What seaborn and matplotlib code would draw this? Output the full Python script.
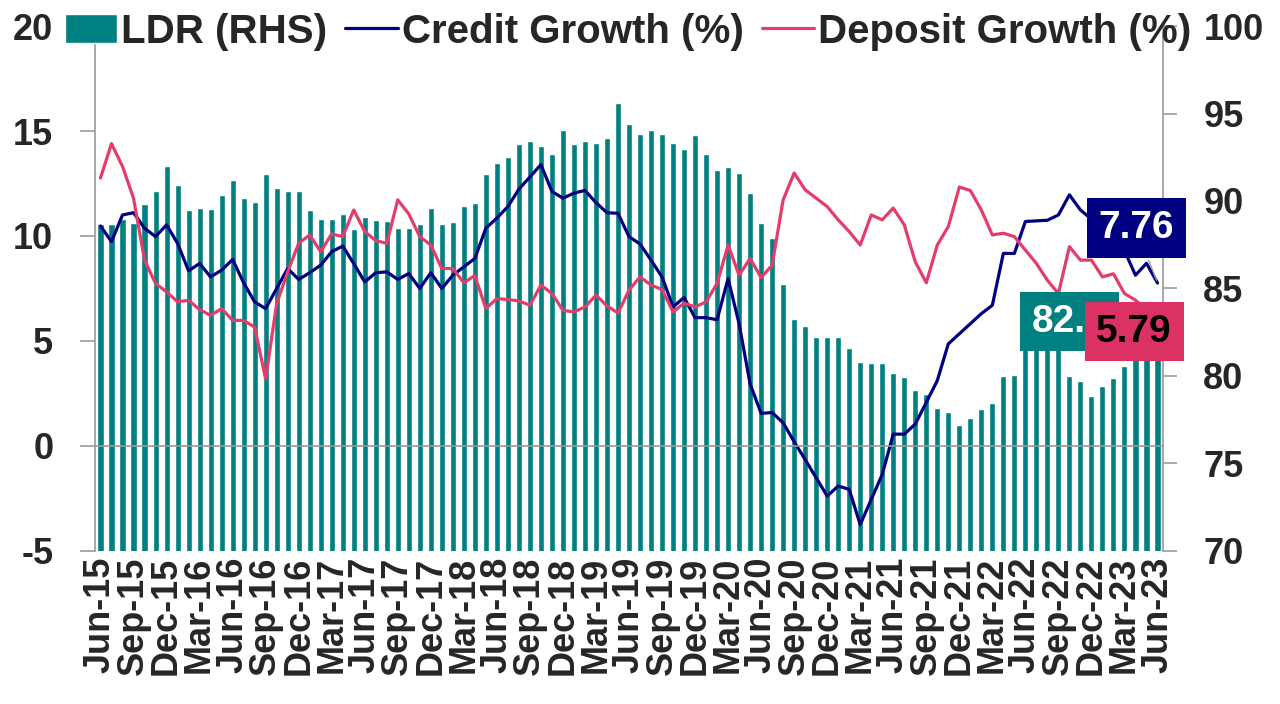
import numpy as np
import pandas as pd
import seaborn as sns
from matplotlib import pyplot as plt
from matplotlib.ticker import FixedLocator

# Monthly data, Jun-15 .. Jun-23
months = list(pd.date_range("2015-06-01", periods=97, freq="MS").strftime("%b-%y"))

ldr = [88.67, 88.67, 88.95, 88.76, 89.85, 90.57, 92.0, 90.9, 89.49, 89.6,
       89.55, 90.33, 91.18, 90.15, 89.96, 91.52, 90.72, 90.57, 90.57, 89.49,
       88.95, 88.95, 89.24, 88.38, 89.1, 88.9, 88.86, 88.48, 88.48, 88.67,
       89.6, 88.67, 88.8, 89.71, 89.9, 91.52, 92.19, 92.53, 93.27, 93.43,
       93.14, 92.7, 94.06, 93.27, 93.43, 93.33, 93.62, 95.62, 94.38, 93.85,
       94.06, 93.85, 93.33, 92.95, 93.75, 92.7, 91.77, 91.94, 91.58, 90.48,
       88.72, 87.87, 85.24, 83.24, 82.86, 82.23, 82.25, 82.2, 81.62, 80.82,
       80.76, 80.76, 80.19, 79.94, 79.18, 78.95, 78.19, 77.96, 77.2, 77.58,
       78.1, 78.48, 80.0, 80.06, 82.0, 82.3, 82.6, 82.4, 80.0, 79.71,
       78.86, 79.43, 79.87, 80.57, 81.6, 82.2, 82.7]

credit = [10.48, 9.73, 11.0, 11.11, 10.37, 9.97, 10.53, 9.65, 8.34, 8.69,
          8.05, 8.37, 8.88, 7.77, 6.86, 6.54, 7.5, 8.45, 7.93, 8.25,
          8.61, 9.25, 9.52, 8.69, 7.81, 8.25, 8.29, 7.93, 8.21, 7.5,
          8.25, 7.5, 8.13, 8.53, 8.93, 10.37, 10.85, 11.4, 12.23, 12.81,
          13.4, 12.12, 11.8, 12.04, 12.17, 11.59, 11.11, 11.08, 9.97, 9.62,
          8.85, 8.05, 6.62, 7.07, 6.11, 6.11, 6.01, 7.97, 5.82, 2.95,
          1.55, 1.59, 1.1, 0.2, -0.65, -1.52, -2.39, -1.91, -2.07, -3.75,
          -2.55, -1.36, 0.56, 0.56, 1.04, 2.07, 3.11, 4.86, 5.34, 5.82,
          6.3, 6.7, 9.17, 9.17, 10.69, 10.72, 10.75, 11.0, 11.96, 11.24,
          10.8, 10.3, 9.8, 9.3, 8.13, 8.7, 7.76]

deposit = [12.76, 14.4, 13.32, 11.8, 8.85, 7.74, 7.34, 6.86, 6.94, 6.49,
           6.22, 6.54, 5.98, 5.98, 5.66, 3.19, 6.78, 8.29, 9.65, 10.05,
           9.25, 10.1, 9.97, 11.24, 10.21, 9.78, 9.65, 11.72, 11.05, 9.97,
           9.57, 8.45, 8.45, 7.77, 8.12, 6.54, 7.02, 6.97, 6.91, 6.7,
           7.66, 7.26, 6.46, 6.38, 6.62, 7.18, 6.67, 6.33, 7.42, 8.05,
           7.66, 7.45, 6.38, 6.8, 6.62, 6.86, 7.74, 9.57, 8.13, 8.93,
           8.02, 8.61, 11.72, 13.0, 12.2, 11.8, 11.4, 10.77, 10.21, 9.57,
           11.0, 10.77, 11.33, 10.53, 8.77, 7.77, 9.57, 10.45, 12.33, 12.17,
           11.24, 10.05, 10.13, 9.97, 9.33, 8.69, 7.89, 7.26, 9.49, 8.85,
           8.85, 8.05, 8.2, 7.26, 6.94, 6.5, 5.79]

TEAL = "#008080"
NAVY = "#000080"
PINK = "#E43D6A"
GREY = "#9a9a9a"

sns.set_style("white")
plt.rcParams["font.family"] = ["Liberation Sans", "DejaVu Sans"]
plt.rcParams["font.weight"] = "bold"
plt.rcParams["axes.unicode_minus"] = False

fig = plt.figure(figsize=(12.8, 7.04), dpi=100)
ax = fig.add_subplot(111)
fig.subplots_adjust(left=0.0742, right=0.9086, top=0.963, bottom=0.2175)

# Bars (LDR) on the base axis, shown on the right-hand scale
sns.barplot(x=months, y=ldr, order=months, color=TEAL, saturation=1,
            width=0.55, ax=ax, label="LDR (RHS)")
ax.set_ylim(70, 100)
ax.set_xlim(-0.5, len(months) - 0.5)

# Lines on the twin axis, shown on the left-hand scale
ax2 = ax.twinx()
idx = np.arange(len(months))
sns.lineplot(x=idx, y=credit, color=NAVY, lw=2.3, ax=ax2, label="Credit Growth (%)")
sns.lineplot(x=idx, y=deposit, color=PINK, lw=2.3, ax=ax2, label="Deposit Growth (%)")
ax2.set_ylim(-5, 20)

# Swap sides: bars scale right, line scale left
ax.yaxis.tick_right()
ax2.yaxis.tick_left()
ax.set_yticks(np.arange(70, 101, 5))
ax2.set_yticks(np.arange(-5, 21, 5))
ax.tick_params(axis="y", length=10, width=1.2, color=GREY, pad=19, labelsize=26)
ax2.tick_params(axis="y", length=11, width=1.2, color=GREY, pad=19, labelsize=26)

# Category labels every quarter, small ticks on the zero line between categories
ax.set_xticks(np.arange(0, len(months), 3))
ax.set_xticklabels(months[::3], rotation=90, fontsize=26, fontweight="bold")
ax.xaxis.set_minor_locator(FixedLocator(np.arange(2.5, len(months), 3)))
ax.tick_params(axis="x", which="both", length=0, pad=4)
ax.set_xlabel("")
ax.set_ylabel("")
ax2.set_ylabel("")

ax2.xaxis.set_visible(True)
ax2.spines["bottom"].set_position(("data", 0))
ax2.tick_params(axis="x", which="major", length=0, labelbottom=False)
ax2.tick_params(axis="x", which="minor", length=9, width=1.2, color=GREY,
                direction="out", labelbottom=False)

for sp in ax.spines.values():
    sp.set_visible(False)
ax2.spines["top"].set_visible(False)
for side in ["left", "right", "bottom"]:
    ax2.spines[side].set_color(GREY)
    ax2.spines[side].set_linewidth(1.2)

# Legend across the top
h1, l1 = ax.get_legend_handles_labels()
h2, l2 = ax2.get_legend_handles_labels()
for a in (ax, ax2):
    if a.get_legend() is not None:
        a.get_legend().remove()
fig.legend(h1 + h2, l1 + l2, loc="center", bbox_to_anchor=(0.4905, 0.955), ncol=3,
           frameon=False, prop={"weight": "bold", "size": 29},
           handlelength=1.3, handleheight=0.75, handletextpad=0.1, columnspacing=0.45,
           borderaxespad=0)

# Last-value labels
box_font = {"weight": "bold", "size": 28}
ax2.annotate(f"{ldr[-1]:.1f}", xy=(0.9126, 0.4368), xycoords="axes fraction",
             ha="center", va="center", color="white", zorder=5, **box_font,
             bbox=dict(boxstyle="square,pad=0.3", fc=TEAL, ec="none"))
ax2.annotate(f"{deposit[-1]:.2f}", xy=(0.973, 0.4177), xycoords="axes fraction",
             ha="center", va="center", color="black", zorder=6, **box_font,
             bbox=dict(boxstyle="square,pad=0.3", fc="#DC3163", ec="none"))
ax2.annotate(f"{credit[-1]:.2f}", xy=(len(months) - 1, credit[-1]),
             xytext=(0.975, 0.615), textcoords="axes fraction",
             ha="center", va="center", color="white", zorder=6, **box_font,
             bbox=dict(boxstyle="square,pad=0.3", fc=NAVY, ec="none"),
             arrowprops=dict(arrowstyle="-", color=GREY, lw=0.9))

fig.savefig("out.png", dpi=100)
